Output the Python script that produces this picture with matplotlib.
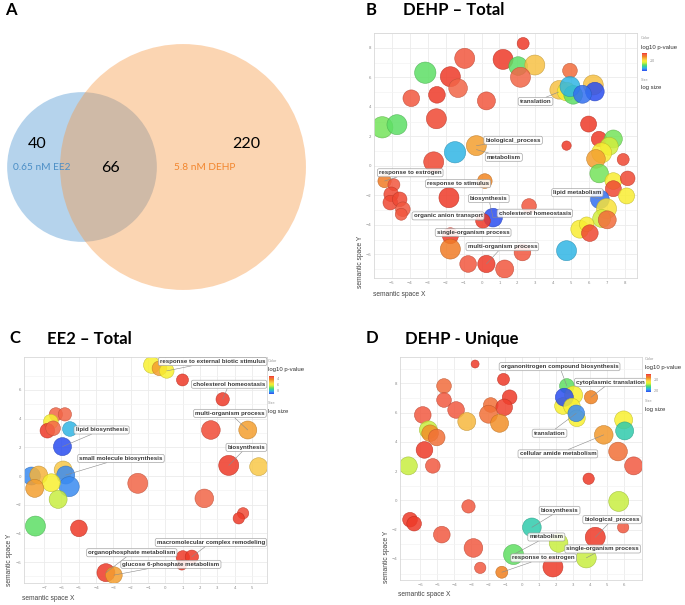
import numpy as np
import matplotlib
matplotlib.use("Agg")
import matplotlib.pyplot as plt
from matplotlib.colors import LinearSegmentedColormap, Normalize, to_rgb
from matplotlib.patches import Circle

# ---------------- data ----------------
# Venn counts
venn_only_ee2 = 40
venn_shared = 66
venn_only_dehp = 220
venn_names = ["0.65 nM EE2", "5.8 nM DEHP"]

# Panel B: DEHP - Total
b_x = [2.32, -0.94, 1.2, 2.04, 2.97, 2.17, -3.14, -1.74, -1.31, -2.49, -3.92, 0.27, 4.93, 4.33, 4.74, 5.11, 4.93,
       6.23, 6.32, 5.63, -2.52, -5.54, -4.72, -0.29, -1.48, -2.67, 5.97, 4.74, 6.55, 7.35, 7.12, 6.7, 6.38, 7.9,
       6.56, 7.35, 8.15, 7.35, 8.09, -5.41, -4.89, -5.04, -5.09, -4.57, -4.39, -4.48, 0.18, -1.82, 2.65, 0.64,
       0.08, -1.74, -1.74, 2.28, 4.74, -0.75, 0.27, 1.29, 6.6, 6.97, 6.7, 7.01, 5.48, 5.86, 6.04]
b_y = [8.29, 7.28, 7.21, 6.76, 6.83, 6.0, 6.31, 6.04, 5.26, 4.81, 4.58, 4.40, 6.45, 5.15, 5.03, 4.81, 5.37, 5.48,
       5.03, 4.85, 3.19, 2.61, 2.79, 1.37, 0.92, 0.27, 2.83, 1.37, 1.82, 1.82, 1.33, 0.88, 0.47, 0.43, -0.52,
       -1.03, -0.85, -1.55, -2.04, -1.03, -1.28, -1.93, -2.49, -2.27, -2.94, -3.28, -1.03, -2.16, -2.72, -3.51,
       -3.73, -4.74, -5.64, -5.87, -5.75, -6.65, -6.65, -6.99, -2.27, -2.9, -3.57, -3.66, -4.29, -3.96, -4.56]
b_logp = [-2, -3, -2, -14, -8, -3.5, -14, -2, -3.5, -2, -3, -3, -4, -8, -10, -14, -17, -8, -20, -19, -2.5,
          -13.5, -14, -6.5, -17, -2.5, -2, -2, -2, -13.5, -11.5, -10, -6.5, -2.5, -13.5, -10, -2.5, -2.5, -10,
          -5, -3, -2.5, -2.5, -2.5, -3, -3, -5.5, -2, -3, -20, -2, -2, -5, -3, -17, -3, -2, -3, -19, -9.5,
          -11.5, -4, -10, -10, -2.5]
b_logsize = [1.8, 3.0, 3.0, 2.8, 3.0, 3.0, 3.2, 3.0, 2.8, 2.5, 2.5, 2.7, 2.2, 2.8, 2.8, 2.8, 3.0, 3.0, 2.8, 2.7,
             3.0, 3.2, 3.0, 3.0, 3.2, 3.0, 2.4, 1.4, 2.3, 2.7, 2.7, 3.0, 2.8, 1.8, 2.8, 2.5, 2.2, 2.4, 2.4, 2.0,
             1.8, 2.2, 2.2, 2.2, 2.2, 1.8, 2.2, 3.0, 2.2, 2.8, 2.2, 2.4, 3.0, 2.5, 3.0, 2.5, 2.6, 2.7, 2.8, 3.0,
             2.7, 2.7, 2.7, 2.2, 2.5]
b_labels = ["translation", "biological_process", "metabolism", "response to estrogen", "response to stimulus",
            "biosynthesis", "lipid metabolism", "cholesterol homeostasis", "organic anion transport",
            "single-organism process", "multi-organism process"]
b_label_x = [3.01, 1.76, 1.24, -3.98, -1.31, 0.40, 5.34, 2.97, -1.87, -0.47, 1.16]
b_label_y = [4.36, 1.73, 0.58, -0.47, -1.21, -2.22, -1.82, -3.21, -3.39, -4.52, -5.48]
b_target_x = [4.3, -0.29, -0.29, -5.41, 0.18, 0.64, 6.6, 0.64, 0.08, -1.74, 0.27]
b_target_y = [5.0, 1.37, 1.1, -1.03, -1.03, -3.51, -2.27, -3.51, -3.73, -4.74, -6.65]

# Panel C: EE2 - Total
c_x = [-0.78, -0.34, 0.08, 0.99, 3.31, -6.32, -5.80, -6.61, -6.81, -6.48, -5.51, -5.94, 2.63, 4.76, 3.66, 5.39,
       -7.73, -7.31, -5.9, -5.75, -5.55, -6.58, -7.54, -6.19, -1.59, 2.25, 4.49, 4.24, -7.50, -4.99, 1.01, 1.53,
       0.95, -3.43, -2.97]
c_y = [7.74, 7.51, 7.33, 6.70, 5.35, 4.30, 4.30, 3.79, 3.16, 3.33, 3.28, 2.05, 3.21, 3.21, 0.74, 0.65, 0.0,
       0.07, 0.42, 0.07, -0.74, -0.47, -0.86, -1.63, -0.51, -1.56, -2.60, -2.95, -3.49, -3.65, -5.67, -5.63,
       -6.21, -6.74, -6.91]
c_logp = [-5.7, -4.5, -5.7, -3, -3, -3.5, -3.5, -5.7, -3, -3.5, -8, -9, -3.2, -4.5, -3, -5.1, -8.4, -4.8, -5.1,
          -8.4, -8.4, -5.7, -4.5, -6.3, -3.5, -3.5, -3.2, -3, -7, -3, -3, -3, -3, -3, -4.5]
c_logsize = [2.5, 2.2, 2.2, 1.8, 2.0, 2.0, 2.0, 2.2, 2.2, 2.2, 2.2, 2.7, 2.8, 2.7, 3.0, 2.7, 2.7, 2.7, 2.7, 2.7,
             3.0, 2.7, 2.7, 2.7, 3.0, 2.8, 1.7, 1.7, 3.0, 2.5, 2.0, 2.0, 1.5, 2.7, 2.5]
c_labels = ["response to external biotic stimulus", "cholesterol homeostasis", "multi-organism process",
            "lipid biosynthesis", "biosynthesis", "small molecule biosynthesis",
            "macromolecular complex remodeling", "organophosphate metabolism", "glucose 6-phosphate metabolism"]
c_label_x = [2.73, 3.68, 3.73, -3.68, 4.68, -2.56, 2.63, -1.94, 0.32]
c_label_y = [7.98, 6.40, 4.37, 3.21, 2.0, 1.23, -4.63, -5.35, -6.16]
c_target_x = [0.08, 3.31, 4.76, -5.94, 3.66, -5.75, 1.53, -3.43, -2.97]
c_target_y = [7.33, 5.35, 3.21, 2.05, 0.74, 0.07, -5.63, -6.74, -6.91]

# Panel D: DEHP - Unique
d_x = [-2.76, -1.09, -4.59, -4.59, -3.88, -1.84, -0.73, -1.05, -1.97, -1.32, -3.25, -5.84, -5.51, -5.41, -5.02,
       -5.74, -5.25, -6.69, 2.64, 3.04, 2.41, 2.49, 2.94, 3.23, 3.19, 4.06, 5.98, 6.04, 4.81, 5.65, 6.57, 3.92,
       5.69, 5.95, 4.31, -3.15, -6.59, -6.35, -4.72, -2.86, -2.46, -1.19, 0.58, 2.15, -0.5, 1.82, 3.78]
d_y = [9.32, 8.27, 7.82, 6.86, 6.18, 6.52, 7.05, 6.36, 5.89, 5.27, 5.39, 5.84, 4.82, 4.59, 4.30, 3.45, 2.36,
       2.36, 7.82, 7.2, 6.45, 7.05, 6.41, 5.61, 5.95, 7.05, 5.5, 4.75, 4.48, 3.34, 2.36, 1.48, -0.07, -1.84,
       -2.52, -0.41, -1.32, -1.59, -2.34, -3.25, -4.61, -4.91, -1.84, -2.91, -3.70, -4.55, -3.93]
d_logp = [-5, -5, -6.8, -6, -6, -7, -5, -5.2, -7, -8.5, -10, -6, -13.8, -8.5, -7, -5, -6, -13.8, -15.6, -12.2,
          -12.2, -21, -12.2, -12.2, -19.4, -8, -12.2, -17.2, -8.8, -7, -6, -5, -13.8, -6, -5, -6, -5, -5, -6,
          -6, -6, -7.9, -17.2, -13.8, -15.6, -5, -13.8]
d_logsize = [1.2, 1.8, 2.2, 2.2, 2.5, 2.2, 2.2, 2.5, 2.7, 2.7, 2.7, 2.5, 2.7, 2.5, 2.5, 2.5, 2.2, 2.7, 2.2, 2.7,
             2.5, 2.7, 2.5, 2.5, 2.5, 2.0, 2.7, 2.7, 2.8, 2.8, 2.7, 1.7, 3.0, 1.7, 3.0, 2.0, 2.2, 2.2, 2.5, 2.8,
             1.7, 1.8, 2.8, 2.8, 3.0, 3.0, 3.0]
d_labels = ["organonitrogen compound biosynthesis", "cytoplasmic translation", "translation",
            "cellular amide metabolism", "biosynthesis", "biological_process", "metabolism",
            "single-organism process", "response to estrogen"]
d_label_x = [2.21, 5.2, 1.62, 2.11, 2.21, 5.3, 1.43, 4.75, 1.27]
d_label_y = [9.14, 8.07, 4.59, 3.18, -0.68, -1.32, -2.5, -3.32, -3.93]
d_target_x = [2.64, 4.06, 3.19, 4.81, 0.58, 4.31, -0.5, 3.78, -1.19]
d_target_y = [7.82, 7.05, 5.95, 4.48, -1.84, -2.52, -3.7, -3.93, -4.91]

# colour scales of the three legends (log10 p-value)
b_range = (-20, -2)
c_range = (-9, -3)
d_range = (-21, -5)
b_cticks = [-10]
c_cticks = [-4, -6, -8]
d_cticks = [-10, -20]

# ---------------- style ----------------
W, H = 685, 605
fig = plt.figure(figsize=(W / 100, H / 100), dpi=100)

cmap = LinearSegmentedColormap.from_list("revigo", [
    (0.00, "#2a4ef0"), (0.10, "#3a8cf0"), (0.16, "#30b4e8"), (0.24, "#30cca8"),
    (0.34, "#60e060"), (0.45, "#c8ee40"), (0.55, "#f8f030"), (0.65, "#f8c848"),
    (0.75, "#f4a030"), (0.82, "#f08020"), (0.92, "#f26448"), (1.00, "#ee3a28")])

TITLE_FONT = ["Lato", "DejaVu Sans"]
LABEL_FONT = ["Liberation Sans", "DejaVu Sans"]


def px_axes(l, t, r, b):
    return fig.add_axes([l / W, 1 - b / H, (r - l) / W, (b - t) / H])


def ftext(x, y, s, **kw):
    return fig.text(x / W, 1 - y / H, s, **kw)


def revigo(ax, x, y, logp, logsize, vrange, xlim, ylim, xticks, yticks,
           labels, lx, ly, tx, ty):
    norm = Normalize(*vrange)
    ax.set_xlim(*xlim)
    ax.set_ylim(*ylim)
    ax.set_xticks(xticks)
    ax.set_yticks(yticks)
    ax.set_yticks(np.arange(yticks[0] - 1, yticks[-1] + 2, 2), minor=True)
    ax.grid(True, which="major", color="#ebebeb", lw=0.6)
    ax.grid(True, which="minor", axis="y", color="#f3f3f3", lw=0.5)
    ax.set_axisbelow(True)
    ax.tick_params(which="both", length=0, labelsize=2.8, colors="#8a8a8a", pad=2)
    for sp in ax.spines.values():
        sp.set_color("#d8d8d8")
        sp.set_linewidth(0.6)
    face = cmap(norm(np.array(logp)))
    edge = [tuple(0.78 * c for c in to_rgb(f[:3])) for f in face]
    sizes = (np.array(logsize) * 4.8) ** 2
    ax.scatter(x, y, s=sizes, c=face, alpha=0.85, edgecolors=edge, linewidths=0.4, zorder=2)
    for t, a, b, c, d in zip(labels, lx, ly, tx, ty):
        ax.annotate(t, xy=(c, d), xytext=(a, b), ha="center", va="center",
                    fontsize=4.4, fontweight="bold", family=LABEL_FONT, color="#3a3a3a",
                    bbox=dict(boxstyle="round,pad=0.25,rounding_size=0.3", fc="white", ec="#9a9a9a",
                              lw=0.5, alpha=0.88),
                    arrowprops=dict(arrowstyle="-", color="#8a8a8a", lw=0.4, shrinkA=0, shrinkB=0),
                    zorder=3)


def legend(x0, y0, vrange, cticks):
    ftext(x0, y0, "Color", fontsize=2.8, color="#9a9a9a", va="center", family=LABEL_FONT)
    ftext(x0, y0 + 9, "log10 p-value", fontsize=4.3, color="#333333", va="center", family=LABEL_FONT)
    cax = px_axes(x0 + 1, y0 + 15, x0 + 6, y0 + 33)
    grad = np.linspace(1, 0, 100).reshape(-1, 1)
    cax.imshow(grad, aspect="auto", cmap=cmap, extent=(0, 1, 0, 1))
    cax.set_axis_off()
    for v in cticks:
        frac = (v - vrange[0]) / (vrange[1] - vrange[0])
        ftext(x0 + 9, y0 + 33 - 18 * frac, str(v), fontsize=2.5, color="#8a8a8a", va="center",
              family=LABEL_FONT)
    ftext(x0, y0 + 42, "Size", fontsize=2.8, color="#9a9a9a", va="center", family=LABEL_FONT)
    ftext(x0, y0 + 50, "log size", fontsize=4.3, color="#333333", va="center", family=LABEL_FONT)


# ---------------- Panel A : Venn ----------------
axv = px_axes(0, 0, 340, 300)
axv.set_xlim(0, 340)
axv.set_ylim(300, 0)
axv.set_axis_off()
n_ee2 = venn_only_ee2 + venn_shared
n_dehp = venn_only_dehp + venn_shared
k = 7.27
axv.add_patch(Circle((82, 167), k * np.sqrt(n_ee2), fc="#b5d3ec", ec="none", zorder=1))
axv.add_patch(Circle((183, 167), k * np.sqrt(n_dehp), fc="#f79640", alpha=0.4, ec="none", zorder=2))
axv.text(37, 144, str(venn_only_ee2), fontsize=11.5, ha="center", va="center", family=TITLE_FONT, zorder=3)
axv.text(110, 168, str(venn_shared), fontsize=11.5, ha="center", va="center", family=TITLE_FONT, zorder=3)
axv.text(246, 144, str(venn_only_dehp), fontsize=11.5, ha="center", va="center", family=TITLE_FONT, zorder=3)
axv.text(42, 167, venn_names[0], fontsize=7.3, ha="center", va="center", color="#4b8ec6",
         family=TITLE_FONT, zorder=3)
axv.text(205, 167, venn_names[1], fontsize=7.3, ha="center", va="center", color="#f2862e",
         family=TITLE_FONT, zorder=3)
ftext(5, 10, "A", fontsize=12, fontweight="bold", va="center", family=TITLE_FONT)

# ---------------- Panel B ----------------
axb = px_axes(374, 33, 637, 278)
revigo(axb, b_x, b_y, b_logp, b_logsize, b_range, (-6.0, 8.67), (-7.6, 9.0),
       list(range(-5, 9)), list(range(-6, 9, 2)),
       b_labels, b_label_x, b_label_y, b_target_x, b_target_y)
ftext(366, 10, "B", fontsize=12, fontweight="bold", va="center", family=TITLE_FONT)
ftext(403, 10, "DEHP \u2013 Total", fontsize=12, fontweight="bold", va="center", family=TITLE_FONT)
legend(641, 38, b_range, b_cticks)
ftext(373, 295, "semantic space X", fontsize=4.8, color="#444444", va="center", family=LABEL_FONT)
ftext(361, 262, "semantic space Y", fontsize=4.8, color="#444444", va="center", ha="center",
      rotation=90, family=LABEL_FONT)

# ---------------- Panel C ----------------
axc = px_axes(24, 357, 267, 583)
revigo(axc, c_x, c_y, c_logp, c_logsize, c_range, (-8.16, 5.87), (-7.46, 8.3),
       list(range(-7, 6)), list(range(-6, 7, 2)),
       c_labels, c_label_x, c_label_y, c_target_x, c_target_y)
ftext(9, 338, "C", fontsize=12, fontweight="bold", va="center", family=TITLE_FONT)
ftext(47, 339, "EE2 \u2013 Total", fontsize=12, fontweight="bold", va="center", family=TITLE_FONT)
legend(268, 361, c_range, c_cticks)
ftext(22, 598, "semantic space X", fontsize=4.8, color="#444444", va="center", family=LABEL_FONT)
ftext(10, 560, "semantic space Y", fontsize=4.8, color="#444444", va="center", ha="center",
      rotation=90, family=LABEL_FONT)

# ---------------- Panel D ----------------
axd = px_axes(400, 357, 642, 580)
revigo(axd, d_x, d_y, d_logp, d_logsize, d_range, (-7.18, 7.06), (-5.44, 9.8),
       list(range(-6, 7)), list(range(-4, 9, 2)),
       d_labels, d_label_x, d_label_y, d_target_x, d_target_y)
ftext(366, 338, "D", fontsize=12, fontweight="bold", va="center", family=TITLE_FONT)
ftext(405, 339, "DEHP - Unique", fontsize=12, fontweight="bold", va="center", family=TITLE_FONT)
legend(645, 359, d_range, d_cticks)
ftext(398, 595, "semantic space X", fontsize=4.8, color="#444444", va="center", family=LABEL_FONT)
ftext(387, 557, "semantic space Y", fontsize=4.8, color="#444444", va="center", ha="center",
      rotation=90, family=LABEL_FONT)

fig.savefig("out.png", dpi=100)
